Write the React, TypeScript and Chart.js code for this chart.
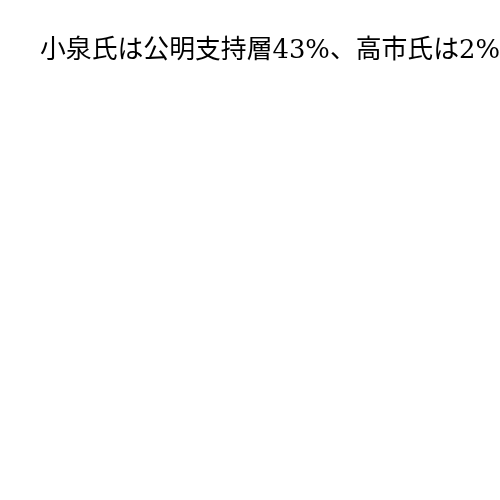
import Chart from 'chart.js/auto';
import { useEffect, useRef } from 'react';

const titleText = '小泉氏は公明支持層43%、高市氏は2%';
// No marks are visible in the reference: the plot holds no data
const categories: string[] = [];
const values: number[] = [];

function App() {
	const chartRef = useRef<HTMLCanvasElement | null>(null);

	useEffect(() => {
		if (!chartRef.current) return;
		document.body.style.margin = '0';

		const chart = new Chart(chartRef.current, {
			type: 'bar',
			data: {
				labels: categories,
				datasets: [
					{
						label: titleText,
						data: values,
						backgroundColor: '#333',
					},
				],
			},
			options: {
				animation: false,
				responsive: false,
				layout: {
					padding: { left: 40, top: 0, right: 0, bottom: 0 },
				},
				plugins: {
					legend: { display: false },
					tooltip: { enabled: false },
					title: {
						display: true,
						text: titleText,
						align: 'start',
						color: '#000',
						font: {
							family: "'DejaVu Serif', 'Liberation Serif', 'Noto Sans CJK JP', serif",
							size: 26,
							weight: 'normal',
						},
						padding: { top: 36, bottom: 10 },
					},
				},
				scales: {
					x: { display: false },
					y: { display: false },
				},
			},
		});

		return () => {
			chart.destroy();
		};
	}, []);

	return (
		<div style={{ position: 'absolute', left: 0, top: 0, width: 500, height: 500 }}>
			<canvas ref={chartRef} width={500} height={500}></canvas>
		</div>
	);
}

export default App;
